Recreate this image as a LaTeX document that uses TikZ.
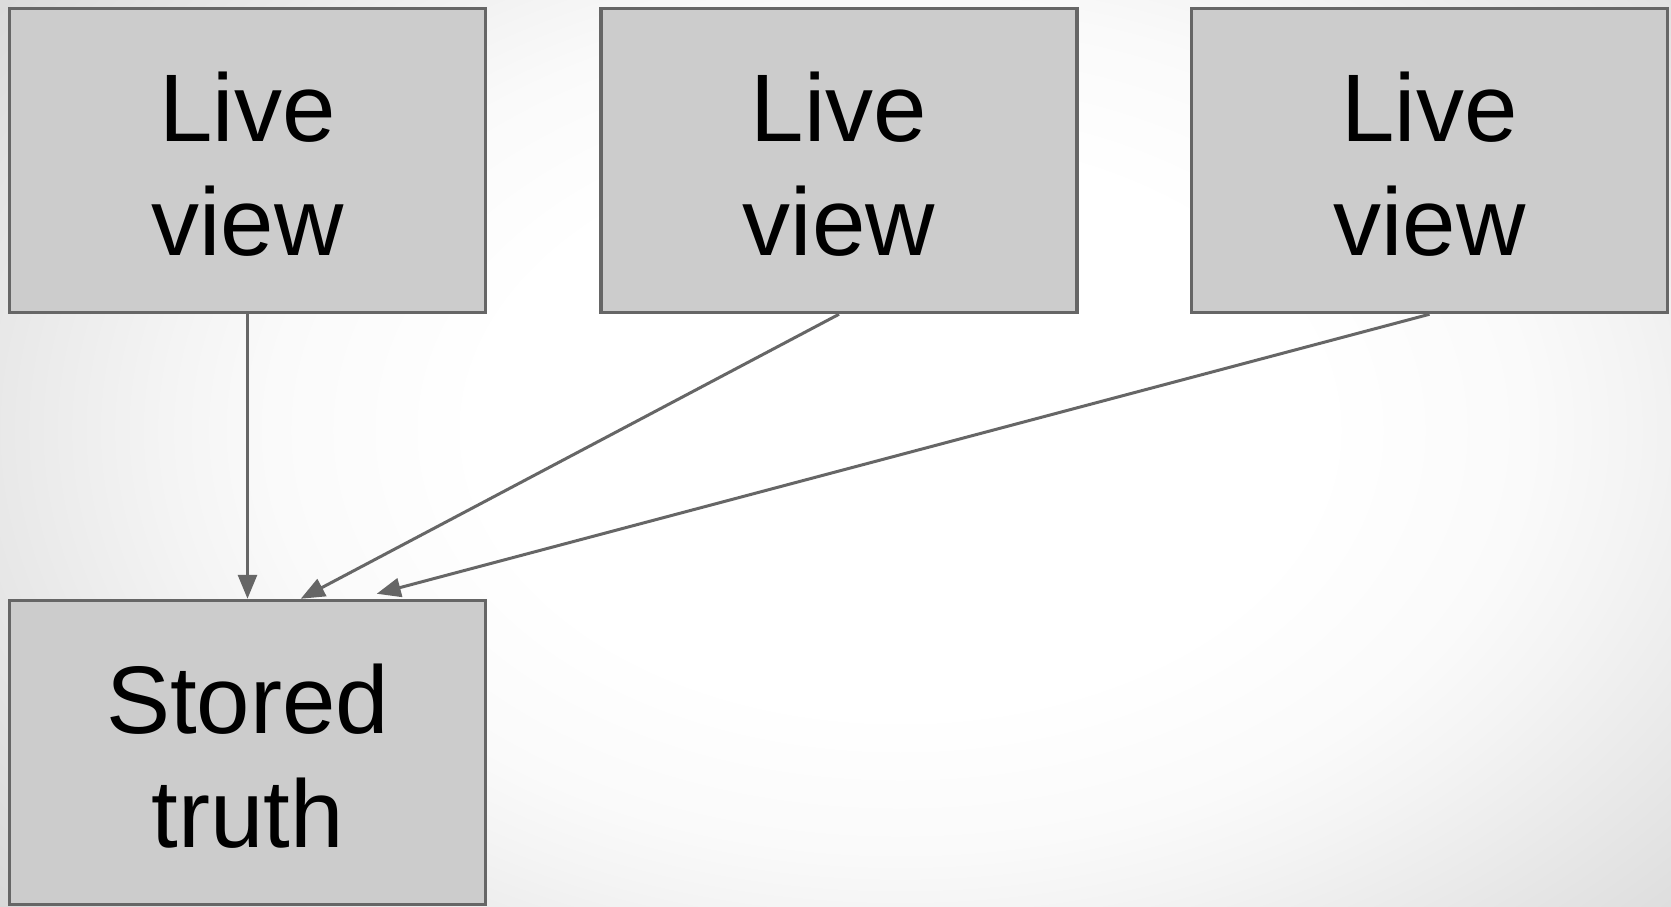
\documentclass[tikz,border=0pt]{standalone}
\usepackage{fontspec}
\setmainfont{Liberation Sans}
\usetikzlibrary{arrows.meta,calc}
\definecolor{edge}{HTML}{666666}
\definecolor{boxfill}{HTML}{CCCCCC}
\definecolor{gA}{HTML}{FAFAFA}
\definecolor{gB}{HTML}{F4F4F4}
\definecolor{gC}{HTML}{E9E9E9}
\definecolor{gD}{HTML}{DEDEDE}
\definecolor{gE}{HTML}{D2D2D2}
\pgfdeclareradialshading{bgshade}{\pgfpoint{0bp}{0bp}}{color(0bp)=(white); color(10bp)=(white); color(15bp)=(gA); color(17.5bp)=(gB); color(21.25bp)=(gC); color(25bp)=(gD); color(30bp)=(gE); color(50bp)=(gE)}
\tikzset{
  box/.style={draw=edge, line width=3.5pt, fill=boxfill, minimum width=476pt, minimum height=304pt, inner sep=0pt},
  lbl/.style={font=\fontsize{96}{114}\selectfont, align=center, inner sep=0pt, text=black},
  conn/.style={draw=edge, line width=3pt, -{Triangle[length=24pt,width=19pt]}}
}
\begin{document}
\begin{tikzpicture}
\useasboundingbox (0,0) rectangle (1671pt,-906pt);
\begin{scope}
  \clip (0,0) rectangle (1671pt,-906pt);
  \shade[shading=bgshade] (-150pt,270pt) rectangle (1950pt,-1130pt);
\end{scope}
\node[box] (b1) at (247.5pt,-160.5pt) {};
\node[box] (b2) at (839pt,-160.5pt) {};
\node[box] (b3) at (1429.5pt,-160.5pt) {};
\node[box] (st) at (247.5pt,-752.5pt) {};
\node[lbl] (l1) at ([yshift=-4pt]b1.center) {Live\\view};
\node[lbl] (l2) at ([yshift=-4pt]b2.center) {Live\\view};
\node[lbl] (l3) at ([yshift=-4pt]b3.center) {Live\\view};
\node[lbl] (ls) at ([yshift=-4pt]st.center) {Stored\\truth};
\coordinate (t2) at ($(st.north west)+(293pt,0pt)$);
\coordinate (t3) at ($(st.north west)+(369pt,5pt)$);
\draw[conn] (b1.south) -- (st.north);
\draw[conn] (b2.south) -- (t2);
\draw[conn] (b3.south) -- (t3);
\end{tikzpicture}
\end{document}
